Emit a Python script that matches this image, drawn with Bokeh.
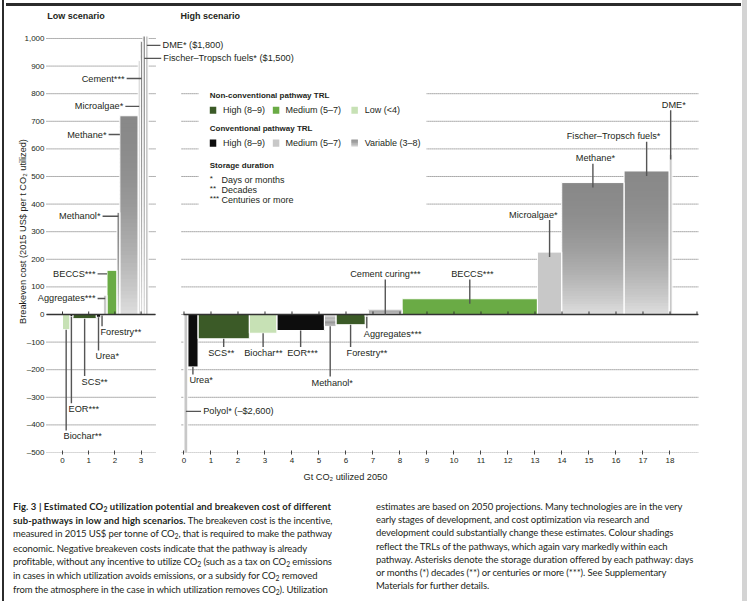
import numpy as np
from bokeh.plotting import figure
from bokeh.models import FixedTicker, Div, ColumnDataSource, Title
from bokeh.layouts import column, row
from bokeh.core.properties import value
from bokeh.embed import file_html
from bokeh.resources import INLINE

# ------------------------------------------------------------------ data
low_pathways = ["Biochar", "EOR", "SCS", "Urea", "Forestry", "Aggregates", "BECCS",
                "Methanol", "Methane", "Microalgae", "Cement",
                "Fischer–Tropsch fuels", "DME"]
low_potential_gt = [0.28, 0.12, 0.89, 0.17, 0.10, 0.14, 0.38, 0.11, 0.70, 0.08, 0.10, 0.10, 0.10]
low_cost_usd = [-55, -8, -15, -10, -4, 70, 160, 370, 720, 920, 990, 1500, 1800]
low_trl = ["nc_low", "c_high", "nc_high", "c_high", "nc_high", "c_med", "nc_med",
           "c_var", "c_var", "c_med", "c_var", "c_var", "c_med"]
low_storage = [2, 3, 2, 1, 2, 3, 3, 1, 1, 1, 3, 1, 1]

high_pathways = ["Polyol", "Urea", "SCS", "Biochar", "EOR", "Methanol", "Forestry",
                 "Aggregates", "Cement curing", "BECCS", "Microalgae", "Methane",
                 "Fischer–Tropsch fuels", "DME"]
high_potential_gt = [0.14, 0.38, 1.90, 1.02, 1.76, 0.43, 1.08, 0.12, 1.25, 5.01, 0.90, 2.31, 1.67, 0.11]
high_cost_usd = [-2600, -190, -88, -68, -58, -43, -37, -8, 17, 57, 226, 478, 520, 580]
high_trl = ["c_med", "c_high", "nc_high", "nc_low", "c_high", "c_var", "nc_high",
            "c_med", "c_var", "nc_med", "c_med", "c_var", "c_var", "c_med"]
high_storage = [1, 1, 2, 2, 3, 1, 2, 3, 3, 3, 1, 1, 1, 1]

cost_ticks = list(range(-500, 1001, 100))
low_gt_ticks = [0, 1, 2, 3]
high_gt_ticks = list(range(0, 19))

panel_titles = ["Low scenario", "High scenario"]
legend_nc_labels = ["High (8–9)", "Medium (5–7)", "Low (<4)"]
legend_nc_keys = ["nc_high", "nc_med", "nc_low"]
legend_c_labels = ["High (8–9)", "Medium (5–7)", "Variable (3–8)"]
legend_c_keys = ["c_high", "c_med", "c_var"]
storage_labels = ["Days or months", "Decades", "Centuries or more"]

# ------------------------------------------------------------------ styles / layout
FONT = value("Liberation Sans")
TXT = "#231f20"
LEAD = "#555555"
ANN_SIZE = "9.2px"
TRL_COLORS = {"nc_high": "#3b5a27", "nc_med": "#6aab45", "nc_low": "#c7e1b5",
              "c_high": "#0d0d0d", "c_med": "#c8c8c8"}
AXIS_MAX = 1000
BAR_CLIP = 1009
Y_TOP = 1101.4
Y_BOT = -500
LOW_OFFSET = -4.5      # where the low-scenario panel sits on the shared x scale
LOW_SCALE = 0.97
LOW_SPAN = (-0.61, 3.55)
HIGH_SPAN = (-0.09, 19.06)
HIGH_GRID_TOP = 800


def low_x(x):
    return round(LOW_OFFSET + LOW_SCALE * x, 6)


def high_x(x):
    return round(x, 6)


def gray_hex(level):
    lv = int(round(level))
    return "#{0:02x}{0:02x}{0:02x}".format(lv)


def variable_shade(t):
    return gray_hex(137 + 85 * (1 - t) ** 2)


# label layout: text x (panel Gt units), text y ($/t), align, leader kind
LOW_LABEL_LAYOUT = {
    "Biochar": (0.04, -442, "left", "v"),
    "EOR": (0.23, -344, "left", "v"),
    "SCS": (0.73, -245, "left", "v"),
    "Urea": (1.26, -152, "left", "v"),
    "Forestry": (1.45, -65, "left", "v"),
    "Aggregates": (1.26, 58, "right", "h"),
    "BECCS": (1.26, 147, "right", "h"),
    "Methanol": (1.45, 356, "right", "h"),
    "Methane": (1.68, 652, "right", "h"),
    "Microalgae": (2.32, 754, "right", "h"),
    "Cement": (2.37, 855, "right", "h"),
    "Fischer–Tropsch fuels": (3.85, 928, "left", "h"),
    "DME": (3.82, 975, "left", "h"),
}
HIGH_LABEL_LAYOUT = {
    "Polyol": (0.71, -351, "left", "h"),
    "Urea": (0.20, -239, "left", "v"),
    "SCS": (1.38, -140, "center", "v"),
    "Biochar": (2.94, -140, "center", "v"),
    "EOR": (4.39, -140, "center", "v"),
    "Methanol": (5.49, -247, "center", "v"),
    "Forestry": (6.02, -140, "left", "v"),
    "Aggregates": (6.66, -72, "left", "v"),
    "Cement curing": (7.46, 147, "center", "v"),
    "BECCS": (10.68, 147, "center", "v"),
    "Microalgae": (12.94, 362, "center", "v"),
    "Methane": (15.24, 566, "center", "v"),
    "Fischer–Tropsch fuels": (15.91, 646, "center", "v"),
    "DME": (18.14, 760, "center", "v"),
}

# ------------------------------------------------------------------ figure
p = figure(width=735, height=484, x_range=(-5.426, 19.056), y_range=(Y_BOT, Y_TOP),
           output_backend="svg", toolbar_location=None, title=None,
           min_border_left=31, min_border_right=43, min_border_top=2, min_border_bottom=40)
p.xgrid.visible = False
p.ygrid.visible = False
p.outline_line_color = None
p.background_fill_color = "white"
p.border_fill_color = "white"

# axes
x_ticks = [low_x(t) for t in low_gt_ticks] + [high_x(t) for t in high_gt_ticks]
x_labels = [str(t) for t in low_gt_ticks] + [str(t) for t in high_gt_ticks]
p.xaxis.ticker = FixedTicker(ticks=x_ticks)
p.xaxis.major_label_overrides = {k: v for k, v in zip(x_ticks, x_labels)}
p.xaxis.axis_line_color = None
p.xaxis.major_tick_in = 2
p.xaxis.major_tick_out = 2
p.xaxis.major_tick_line_color = "#444444"
p.xaxis.minor_tick_line_color = None
p.xaxis.major_label_standoff = 3
p.xaxis.major_label_text_font = "Liberation Sans"
p.xaxis.major_label_text_font_size = "8px"
p.xaxis.major_label_text_color = TXT

p.yaxis.ticker = FixedTicker(ticks=cost_ticks)
p.yaxis.major_label_overrides = {t: f"{t:,}".replace("-", "–") for t in cost_ticks}
p.yaxis.axis_line_color = None
p.yaxis.major_tick_line_color = None
p.yaxis.major_tick_out = 0
p.yaxis.major_tick_in = 0
p.yaxis.minor_tick_line_color = None
p.yaxis.major_label_standoff = -7
p.yaxis.major_label_text_font = "Liberation Sans"
p.yaxis.major_label_text_font_size = "8px"
p.yaxis.major_label_text_color = TXT
p.yaxis.axis_label = "Breakeven cost (2015 US$ per t CO₂ utilized)"
p.yaxis.axis_label_text_font = "Liberation Sans"
p.yaxis.axis_label_text_font_style = "normal"
p.yaxis.axis_label_text_font_size = ANN_SIZE
p.yaxis.axis_label_text_color = TXT
p.yaxis.axis_label_standoff = -7

p.add_layout(Title(text="Gt CO₂ utilized 2050", align="left", offset=266,
                   text_font="Liberation Sans", text_font_style="normal",
                   text_font_size=ANN_SIZE, text_color=TXT, standoff=8), "below")

# grid lines (dotted), separately for both panels
gx0, gx1, gy = [], [], []
for t in cost_ticks:
    gx0.append(low_x(LOW_SPAN[0])); gx1.append(low_x(LOW_SPAN[1])); gy.append(t)
    if t <= HIGH_GRID_TOP:
        gx0.append(high_x(HIGH_SPAN[0])); gx1.append(high_x(HIGH_SPAN[1])); gy.append(t)
p.segment(x0=gx0, y0=gy, x1=gx1, y1=gy, line_color="#666666", line_width=1, line_dash="1 1")

# legend background box
LEG_X = 0.955
p.quad(left=[0.54], right=[8.98], bottom=[388], top=[819], fill_color="white", line_color=None)

N_SLICES = 50


def draw_bars(names, potential, cost, trl, to_x):
    edges = np.concatenate([[0.0], np.cumsum(potential)])
    solid = dict(left=[], right=[], bottom=[], top=[], color=[])
    grad = dict(left=[], right=[], bottom=[], top=[], color=[])
    outl = dict(left=[], right=[], bottom=[], top=[])
    for l, r, v, t in zip(edges[:-1], edges[1:], cost, trl):
        L, R = to_x(l), to_x(r)
        vis = min(v, BAR_CLIP)
        if t == "c_var":
            for k in range(N_SLICES):
                b = v * k / N_SLICES
                tp = v * min(k + 1.4, N_SLICES) / N_SLICES
                lo, hi = min(b, tp), min(max(b, tp), BAR_CLIP)
                if lo >= hi:
                    continue
                grad["left"].append(L); grad["right"].append(R)
                grad["bottom"].append(lo); grad["top"].append(hi)
                grad["color"].append(variable_shade((k + 0.5) / N_SLICES))
        else:
            solid["left"].append(L); solid["right"].append(R)
            solid["bottom"].append(min(0, v)); solid["top"].append(max(0, vis))
            solid["color"].append(TRL_COLORS[t])
        outl["left"].append(L); outl["right"].append(R)
        outl["bottom"].append(min(0, v)); outl["top"].append(max(0, vis))
    p.quad(left="left", right="right", bottom="bottom", top="top", fill_color="color",
           line_color=None, source=ColumnDataSource(solid))
    p.quad(left="left", right="right", bottom="bottom", top="top", fill_color="color",
           line_color=None, source=ColumnDataSource(grad))
    p.quad(left="left", right="right", bottom="bottom", top="top", fill_color=None,
           line_color="white", line_width=1, source=ColumnDataSource(outl))
    return edges


low_edges = draw_bars(low_pathways, low_potential_gt, low_cost_usd, low_trl, low_x)
high_edges = draw_bars(high_pathways, high_potential_gt, high_cost_usd, high_trl, high_x)

# zero lines with upward ticks
p.segment(x0=[low_x(LOW_SPAN[0]), high_x(-0.02)], y0=[0, 0],
          x1=[low_x(LOW_SPAN[1]), high_x(HIGH_SPAN[1])], y1=[0, 0],
          line_color="#333333", line_width=1.3)
zt = [low_x(t) for t in low_gt_ticks] + [high_x(t) for t in high_gt_ticks + [19]]
p.segment(x0=zt, y0=[0] * len(zt), x1=zt, y1=[11] * len(zt), line_color="#333333", line_width=1)


# labels and leader lines
def annotate(names, potential, cost, storage, edges, layout, to_x):
    tx = {"left": [], "right": [], "center": []}
    ty = {"left": [], "right": [], "center": []}
    tt = {"left": [], "right": [], "center": []}
    lx0, ly0, lx1, ly1 = [], [], [], []
    for name, w, v, s, l, r in zip(names, potential, cost, storage, edges[:-1], edges[1:]):
        x, y, align, kind = layout[name]
        text = name + "*" * s
        if v > AXIS_MAX:
            text += f" (${v:,})"
        elif v < Y_BOT:
            text += f" (–${abs(v):,})"
        tx[align].append(to_x(x)); ty[align].append(y); tt[align].append(text)
        c = (l + r) / 2
        if kind == "v":
            if y < v or v <= 0:
                y0 = v
                y1 = y + 22
            else:
                y0 = max(v - 18, 0)
                y1 = y - 20
            lx0.append(to_x(c)); lx1.append(to_x(c)); ly0.append(y0); ly1.append(y1)
        else:
            if align == "right":
                x0 = x + 0.08
                x1 = l if (r - l) > 0.15 else c
            else:
                x0 = c
                x1 = x - 0.08
            lx0.append(to_x(x0)); lx1.append(to_x(x1)); ly0.append(y); ly1.append(y)
    p.segment(x0=lx0, y0=ly0, x1=lx1, y1=ly1, line_color=LEAD, line_width=1.4)
    for a in ("left", "right", "center"):
        if tt[a]:
            p.text(x=tx[a], y=ty[a], text=tt[a], text_align=a, text_baseline="middle",
                   text_font=FONT, text_font_size=ANN_SIZE, text_color=TXT)


annotate(low_pathways, low_potential_gt, low_cost_usd, low_storage, low_edges,
         LOW_LABEL_LAYOUT, low_x)
annotate(high_pathways, high_potential_gt, high_cost_usd, high_storage, high_edges,
         HIGH_LABEL_LAYOUT, high_x)

# ------------------------------------------------------------------ legend (drawn)
SW_W, SW_H = 0.24, 26
col_sw = [0.955, 3.29, 6.20]
col_tx = [1.44, 3.76, 6.69]
heads = [("Non-conventional pathway TRL", 793), ("Conventional pathway TRL", 673),
         ("Storage duration", 540)]
p.text(x=[LEG_X] * 3, y=[h[1] for h in heads], text=[h[0] for h in heads],
       text_align="left", text_baseline="middle", text_font=FONT,
       text_font_style="bold", text_font_size="8px", text_color=TXT)
rows = [(legend_nc_keys, legend_nc_labels, 740), (legend_c_keys, legend_c_labels, 621)]
sw = dict(left=[], right=[], bottom=[], top=[], color=[])
lt = dict(x=[], y=[], text=[])
for keys, labels, yr in rows:
    for k, lab, xs, xt in zip(keys, labels, col_sw, col_tx):
        if k == "c_var":
            for j in range(20):
                sw["left"].append(xs); sw["right"].append(xs + SW_W)
                sw["bottom"].append(yr - SW_H / 2 + SW_H * j / 20)
                sw["top"].append(yr - SW_H / 2 + SW_H * min(j + 1.4, 20) / 20)
                sw["color"].append(variable_shade((j + 0.5) / 20))
        else:
            sw["left"].append(xs); sw["right"].append(xs + SW_W)
            sw["bottom"].append(yr - SW_H / 2); sw["top"].append(yr + SW_H / 2)
            sw["color"].append(TRL_COLORS[k])
        lt["x"].append(xt); lt["y"].append(yr); lt["text"].append(lab)
p.quad(left="left", right="right", bottom="bottom", top="top", fill_color="color",
       line_color=None, source=ColumnDataSource(sw))
st_y = [489, 452, 415]
for lab, yy in zip(storage_labels, st_y):
    lt["x"].append(1.39); lt["y"].append(yy); lt["text"].append(lab)
p.text(x="x", y="y", text="text", text_align="left", text_baseline="middle",
       text_font=FONT, text_font_size="9px", text_color=TXT, source=ColumnDataSource(lt))
p.text(x=[LEG_X] * 3, y=[yy + 4 for yy in st_y], text=["*" * (i + 1) for i in range(3)],
       text_align="left", text_baseline="middle", text_font=FONT,
       text_font_size="8px", text_color=TXT)

# panel titles (inside the extended top of the frame)
p.text(x=[low_x(-0.58), high_x(-0.13)], y=[1083, 1083], text=panel_titles,
       text_align="left", text_baseline="middle", text_font=FONT,
       text_font_style="bold", text_font_size="9px", text_color=TXT)

# ------------------------------------------------------------------ caption
S2 = '<span style="font-size:0.72em;position:relative;top:0.3em;">2</span>'
caption_left = [
    f"<b>Fig. 3 | Estimated CO{S2} utilization potential and breakeven cost of different</b>",
    "<b>sub-pathways in low and high scenarios.</b> The breakeven cost is the incentive,",
    f"measured in 2015 US$ per tonne of CO{S2}, that is required to make the pathway",
    "economic. Negative breakeven costs indicate that the pathway is already",
    f"profitable, without any incentive to utilize CO{S2} (such as a tax on CO{S2} emissions",
    f"in cases in which utilization avoids emissions, or a subsidy for CO{S2} removed",
    f"from the atmosphere in the case in which utilization removes CO{S2}). Utilization",
]
caption_right = [
    "estimates are based on 2050 projections. Many technologies are in the very",
    "early stages of development, and cost optimization via research and",
    "development could substantially change these estimates. Colour shadings",
    "reflect the TRLs of the pathways, which again vary markedly within each",
    "pathway. Asterisks denote the storage duration offered by each pathway: days",
    "or months (*) decades (**) or centuries or more (***). See Supplementary",
    "Materials for further details.",
]
col_style = ("position:absolute;top:8px;white-space:nowrap;font-family:Lato;"
             "font-size:9.5px;line-height:13.2px;letter-spacing:-0.1px;color:#231f20;")
bold_style = "<style>b{letter-spacing:0.1px;}</style>"
html = (bold_style + '<div style="position:relative;width:735px;height:109px;">'
        f'<div style="{col_style}left:7px;">' + "<br>".join(caption_left) + "</div>"
        f'<div style="{col_style}left:370px;">' + "<br>".join(caption_right) + "</div>"
        "</div>")
cap = Div(text=html, width=735, height=109, margin=(0, 0, 0, 0))

# page frame strips (scanned-page border)
left_strip = Div(text="", width=6, height=601, margin=(0, 0, 0, 0),
                 styles={"background": "linear-gradient(to right, #ffffff 2px, #2b2b2b 2px, "
                                       "#2b2b2b 4px, #ffffff 4px)"})
top_strip = Div(text="", width=735, height=8, margin=(0, 0, 0, 0),
                styles={"background": "linear-gradient(to bottom, #ffffff 3px, #2b2b2b 3px, "
                                      "#2b2b2b 6px, #ffffff 6px)"})
right_strip = Div(text="", width=6, height=601, margin=(0, 0, 0, 0),
                  styles={"background": "linear-gradient(to right, #ffffff 1px, #d4d4d4 1px)"})

layout = row(left_strip, column(top_strip, p, cap, spacing=0), right_strip, spacing=0)
open("out.html", "w").write(file_html(layout, INLINE))
